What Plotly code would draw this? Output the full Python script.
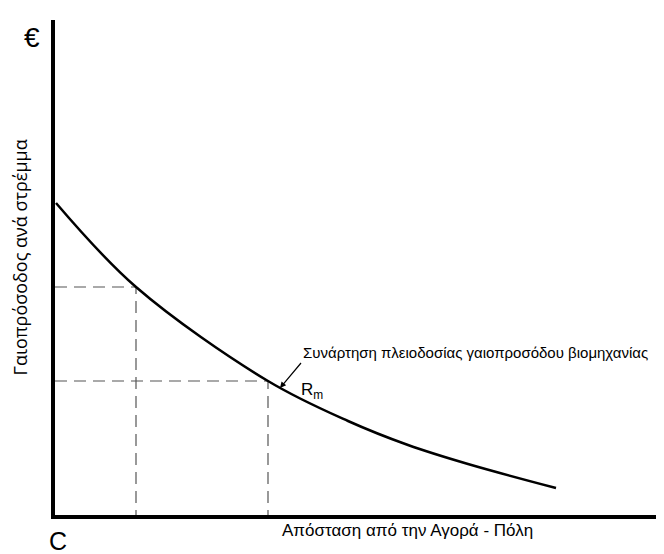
import plotly.graph_objects as go

# bid-rent curve (arbitrary units)
distance = [1, 81, 213, 293, 353, 413, 501]
rent = [312, 228, 134, 94, 70, 51, 27]
marked = [1, 2]  # points with dashed guide lines

curve_label = 'Συνάρτηση πλειοδοσίας γαιοπροσόδου βιομηχανίας'
x_title = 'Απόσταση από την Αγορά - Πόλη'
y_title = 'Γαιοπρόσοδος ανά στρέμμα'

fig = go.Figure()

for i in marked:
    fig.add_trace(go.Scatter(
        x=[0, distance[i], distance[i]], y=[rent[i], rent[i], 0],
        mode='lines', line=dict(color='#555555', width=1.2, dash='12px,7px'),
        hoverinfo='skip', showlegend=False))

fig.add_trace(go.Scatter(
    x=distance, y=rent, mode='lines',
    line=dict(color='black', width=2.5, shape='spline', smoothing=1.0),
    showlegend=False))

font = dict(family='Liberation Sans, Arial, sans-serif', color='black')

fig.update_layout(
    width=664, height=554,
    margin=dict(l=47, r=0, t=12, b=47),
    plot_bgcolor='white', paper_bgcolor='white',
    xaxis=dict(range=[0, 617], showgrid=False, zeroline=False, showticklabels=False,
               showline=True, linecolor='black', linewidth=4, ticks=''),
    yaxis=dict(range=[0, 495], showgrid=False, zeroline=False, showticklabels=False,
               showline=True, linecolor='black', linewidth=4, ticks=''),
)

# label with arrow pointing to the curve
fig.add_annotation(x=225, y=127, text=curve_label, showarrow=True, arrowhead=2,
                   arrowsize=1, arrowwidth=1.2, arrowcolor='black', ax=21, ay=-25,
                   xanchor='left', yanchor='bottom', font=dict(size=15, **font))
fig.add_annotation(x=244, y=124, text='R<sub>m</sub>', showarrow=False, xanchor='left',
                   yanchor='middle', font=dict(size=17, **font))

# axis titles and corner labels
fig.add_annotation(xref='paper', yref='paper', x=0.572, y=-0.032, text=x_title,
                   showarrow=False, xanchor='center', yanchor='middle',
                   font=dict(size=17, **font))
fig.add_annotation(xref='paper', yref='paper', x=-0.057, y=0.52, text=y_title,
                   showarrow=False, textangle=-90, xanchor='center', yanchor='middle',
                   font=dict(size=18, family='Open Sans, sans-serif', color='black'))
fig.add_annotation(xref='paper', yref='paper', x=-0.037, y=0.964, text='€',
                   showarrow=False, xanchor='center', yanchor='middle',
                   font=dict(size=28, **font))
fig.add_annotation(xref='paper', yref='paper', x=0.005, y=-0.052, text='C',
                   showarrow=False, xanchor='center', yanchor='middle',
                   font=dict(size=25, **font))

fig.write_html('out.html')
